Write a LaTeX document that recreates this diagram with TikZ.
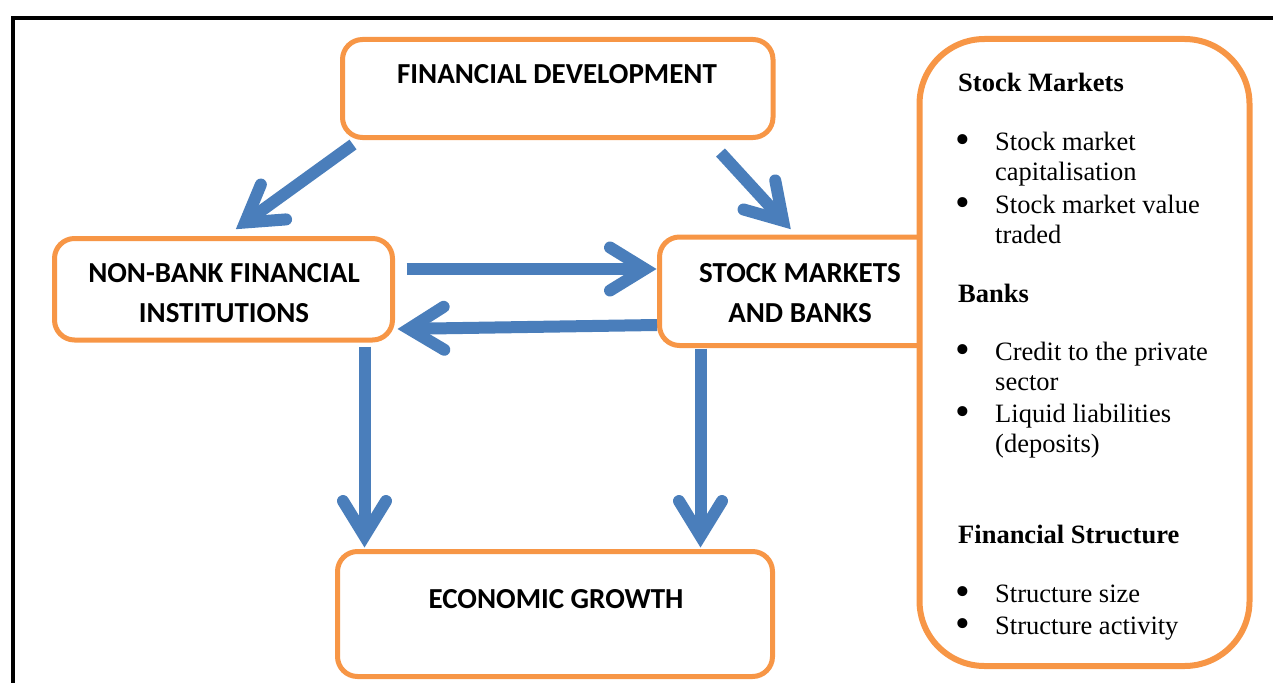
\documentclass[tikz,border=0pt]{standalone}
\usepackage{fontspec}
\setmainfont{Liberation Serif}
\newfontfamily\boxfont{Carlito}
\usetikzlibrary{arrows.meta,calc}
\definecolor{boxorange}{HTML}{F79646}
\definecolor{flowblue}{HTML}{4A7EBB}

\begin{document}
\begin{tikzpicture}[x=1pt,y=-1pt,
  stage/.style={draw=boxorange, line width=5pt, rounded corners=20pt,
    fill=white, inner sep=0pt},
  stagetext/.style={font=\boxfont\bfseries\fontsize{29}{40}\selectfont,
    align=center, inner sep=0pt},
  flow/.style={draw=flowblue, line width=12pt,
    -{Straight Barb[length=35pt,width=43pt,line cap=round,line join=miter]}},
  sidehead/.style={anchor=base west, inner sep=0pt,
    font=\bfseries\fontsize{26.5}{30}\selectfont},
  sideitem/.style={anchor=base west, inner sep=0pt,
    font=\fontsize{26.5}{30}\selectfont},
  bulletmark/.style={anchor=base west, inner sep=0pt,
    font=\fontsize{42}{42}\selectfont},
  ]
\useasboundingbox (0,0) rectangle (1273,682);
\clip (0,0) rectangle (1273,682);

% outer frame (open to the right and bottom)
\draw[line width=4pt] (13,700) -- (13,18) -- (1300,18);

% stages
\node[stage, minimum width=430.5pt, minimum height=98pt] (fd) at (557.75,88.5) {};
\node[stagetext] (fdlabel) at (557,74) {FINANCIAL DEVELOPMENT};

\node[stage, minimum width=338pt, minimum height=101.5pt] (nb) at (223.5,289.25) {};
\node[stagetext] (nblabel) at (224,293) {NON-BANK FINANCIAL\\INSTITUTIONS};

\node[stage, minimum width=340.5pt, minimum height=108.5pt] (smb) at (829.75,291.25) {};
\node[stagetext] (smblabel) at (800,293.5) {STOCK MARKETS\\AND BANKS};

\node[stage, minimum width=435pt, minimum height=125pt] (eg) at (555,614) {};
\node[stagetext] (eglabel) at (556,599) {ECONOMIC GROWTH};

% indicator panel
\node[draw=boxorange, line width=6pt, rounded corners=65pt, fill=white,
  minimum width=330pt, minimum height=627pt, inner sep=0pt] (panel) at (1084.5,352.5) {};

\node[sidehead] (h1) at (958,92) {Stock Markets};
\node[bulletmark] (b1) at (955.5,153.6) {•};
\node[sideitem] (t1a) at (995,150) {Stock market};
\node[sideitem] (t1b) at (995,180) {capitalisation};
\node[bulletmark] (b2) at (955.5,216.6) {•};
\node[sideitem] (t2a) at (995,213) {Stock market value};
\node[sideitem] (t2b) at (995,243) {traded};

\node[sidehead] (h2) at (958,302) {Banks};
\node[bulletmark] (b3) at (955.5,363.6) {•};
\node[sideitem] (t3a) at (995,360) {Credit to the private};
\node[sideitem] (t3b) at (995,390) {sector};
\node[bulletmark] (b4) at (955.5,425.6) {•};
\node[sideitem] (t4a) at (995,422) {Liquid liabilities};
\node[sideitem] (t4b) at (995,452) {(deposits)};

\node[sidehead] (h3) at (958,543) {Financial Structure};
\node[bulletmark] (b5) at (955.5,605.6) {•};
\node[sideitem] (t5) at (995,602) {Structure size};
\node[bulletmark] (b6) at (955.5,637.6) {•};
\node[sideitem] (t6) at (995,634) {Structure activity};

% flows
\draw[flow] ($(fd.south west)+(13,4.5)$) -- ($(nb.north west)+(183.8,-6.8)$);
\draw[flow] ($(fd.south east)+(-55,12.5)$) -- ($(smb.north west)+(133.8,-5.3)$);
\draw[flow] ($(nb.east)+(11.5,-20.25)$) -- ($(smb.west)+(-0.5,-22.25)$);
\draw[flow] ($(smb.west)+(0,33.75)$) -- ($(nb.east)+(2.5,39.75)$);
\draw[flow] ($(nb.south west)+(312.5,4)$) -- ($(eg.north west)+(29.5,-1.5)$);
\draw[flow] ($(smb.south west)+(43.5,0.5)$) -- ($(eg.north west)+(365.5,-1.5)$);
\end{tikzpicture}
\end{document}
